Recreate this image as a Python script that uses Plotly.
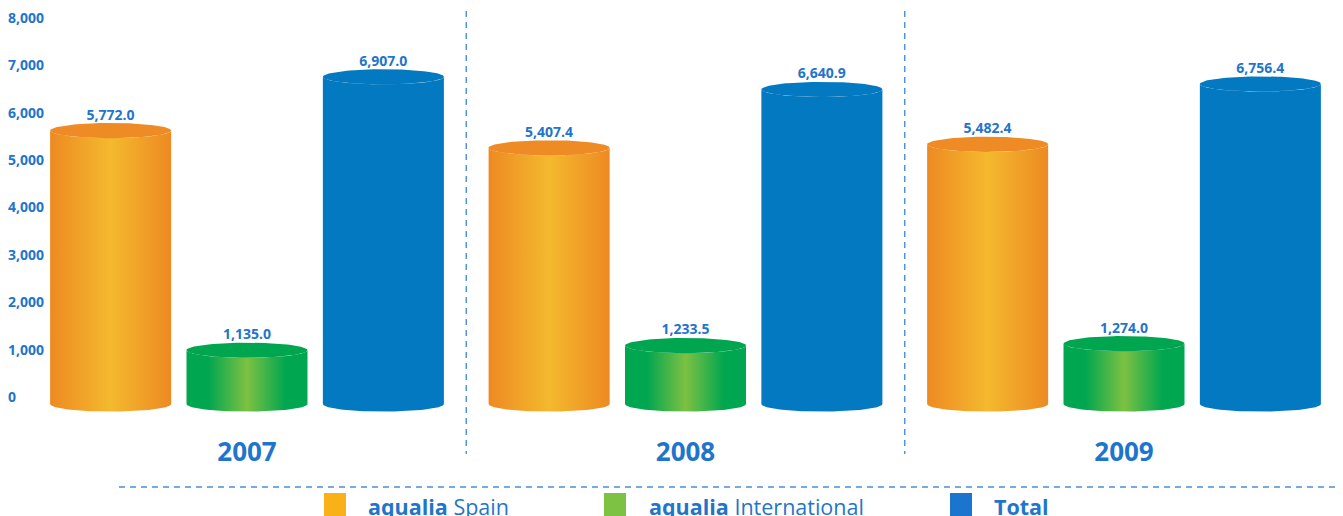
import numpy as np
import plotly.graph_objects as go

# ---------------- data ----------------
years = ["2007", "2008", "2009"]
series_names = ["<b>aqualia</b> Spain", "<b>aqualia</b> International", "<b>Total</b>"]
spain = [5772.0, 5407.4, 5482.4]
international = [1135.0, 1233.5, 1274.0]
total = [6907.0, 6640.9, 6756.4]
y_ticks = [0, 1000, 2000, 3000, 4000, 5000, 6000, 7000, 8000]
y_tick_text = ["0", "1,000", "2,000", "3,000", "4,000", "5,000", "6,000", "7,000", "8,000"]

# ---------------- style ----------------
OFF = 8                      # default body margin of the page
W, H = 1343 - OFF, 516 - OFF
ML, MR, MT = 0, 0, 0
PLOT_BOTTOM = 434 - OFF      # figure pixel of plot-area bottom
MB = H - PLOT_BOTTOM
PLOT_H = PLOT_BOTTOM - MT
PLOT_W = W - ML - MR
TXT = "#1f75cc"
LINE = "#4a8fd8"
FONT = "Open Sans"

PX_PER_UNIT = 0.04737
ZERO_PIX = 404 - OFF
Y_MAX = ZERO_PIX / PX_PER_UNIT
Y_MIN = -(PLOT_BOTTOM - ZERO_PIX) / PX_PER_UNIT
X_PX = 438.5
X0_PIX = 247 - OFF - ML

offsets = [-0.311, 0.0, 0.311]
bar_w = 0.276
ry = 160  # half-height of the cylinder ellipses (data units)

styles = [
    dict(scale=[[0, "#ed8a22"], [0.5, "#f4b92e"], [1, "#ed8a22"]], top="#ee8b24", legend="#f9b11a"),
    dict(scale=[[0, "#00a650"], [0.18, "#00a650"], [0.5, "#7dc142"], [0.82, "#00a650"], [1, "#00a650"]],
         top="#00a54f", legend="#7dc242"),
    dict(scale=[[0, "#0279c1"], [1, "#0279c1"]], top="#0279c1", legend="#1b75cf"),
]
series = [spain, international, total]


def py(s):  # screen pixel -> paper y
    return (PLOT_BOTTOM - (s - OFF)) / PLOT_H


def px(s):  # screen pixel -> paper x
    return (s - OFF - ML) / PLOT_W


fig = go.Figure()

for s_idx, vals in enumerate(series):
    st = styles[s_idx]
    for g_idx, v in enumerate(vals):
        xc = g_idx + offsets[s_idx]
        hw = bar_w / 2
        t = np.linspace(np.pi, 2 * np.pi, 60)
        bx = xc + hw * np.cos(t)
        by = ry * np.sin(t)
        tx = bx[::-1]
        ty = v + ry * np.sin(t)[::-1]
        xs = np.concatenate([bx, tx, bx[:1]])
        ys = np.concatenate([by, ty, by[:1]])
        fig.add_trace(go.Scatter(
            x=xs, y=ys, mode="lines", fill="toself", line=dict(width=0, color=st["top"]),
            fillgradient=dict(type="horizontal", colorscale=st["scale"]),
            hoverinfo="skip", showlegend=False))
        tt = np.linspace(0, 2 * np.pi, 120)
        fig.add_trace(go.Scatter(
            x=xc + hw * np.cos(tt), y=v + ry * np.sin(tt), mode="lines", fill="toself",
            fillcolor=st["top"], line=dict(width=0, color=st["top"]),
            hoverinfo="skip", showlegend=False))

# value labels
lx, ly, lt = [], [], []
for s_idx, vals in enumerate(series):
    for g_idx, v in enumerate(vals):
        lx.append(g_idx + offsets[s_idx])
        ly.append(v + ry)
        lt.append(f"{v:,.1f}")
fig.add_trace(go.Scatter(x=lx, y=ly, mode="text", text=lt, textposition="top center",
                         textfont=dict(family=FONT, size=14, color=TXT, weight="bold"),
                         hoverinfo="skip", showlegend=False, cliponaxis=False))

x0_range = -X0_PIX / X_PX
x1_range = (PLOT_W - X0_PIX) / X_PX

dash = dict(color=LINE, width=1.4, dash="6px,5px")
shapes = []
for xd in [0.5, 1.5]:
    shapes.append(dict(type="line", xref="x", yref="paper", x0=xd, x1=xd, y0=py(0), y1=py(454), line=dash))
shapes.append(dict(type="line", xref="paper", yref="paper", x0=px(1339), x1=px(1339), y0=py(0), y1=py(487),
                   line=dash))
shapes.append(dict(type="line", xref="paper", yref="paper", x0=px(119), x1=px(1343), y0=py(487), y1=py(487),
                   line=dash))

legend_sq = [324, 604, 950]
legend_tx = [366, 647, 992]
annotations = []
for i, name in enumerate(series_names):
    shapes.append(dict(type="rect", xref="paper", yref="paper", x0=px(legend_sq[i]), x1=px(legend_sq[i] + 22),
                       y0=py(520), y1=py(493), fillcolor=styles[i]["legend"], line=dict(width=0)))
    annotations.append(dict(xref="paper", yref="paper", x=px(legend_tx[i]), y=py(507), xanchor="left",
                            yanchor="middle", text=name, showarrow=False,
                            font=dict(family=FONT, size=21.5, color=TXT)))

fig.update_layout(
    width=W, height=H, autosize=False,
    margin=dict(l=ML, r=MR, t=MT, b=MB, pad=0),
    paper_bgcolor="white", plot_bgcolor="white",
    shapes=shapes, annotations=annotations,
    xaxis=dict(range=[x0_range, x1_range], tickvals=[0, 1, 2], ticktext=years,
               tickfont=dict(family=FONT, size=26, color=TXT, weight="bold"),
               showgrid=False, zeroline=False, showline=False, ticks="", fixedrange=True),
    yaxis=dict(range=[Y_MIN, Y_MAX], tickvals=y_ticks, ticktext=y_tick_text,
               ticklabelposition="inside", ticklabeloverflow="allow",
               ticklabelshift=-7, ticklabelstandoff=-3,
               tickfont=dict(family=FONT, size=14, color=TXT, weight="bold"),
               showgrid=False, zeroline=False, showline=False, ticks="", fixedrange=True),
    showlegend=False,
)

fig.write_html("out.html")
